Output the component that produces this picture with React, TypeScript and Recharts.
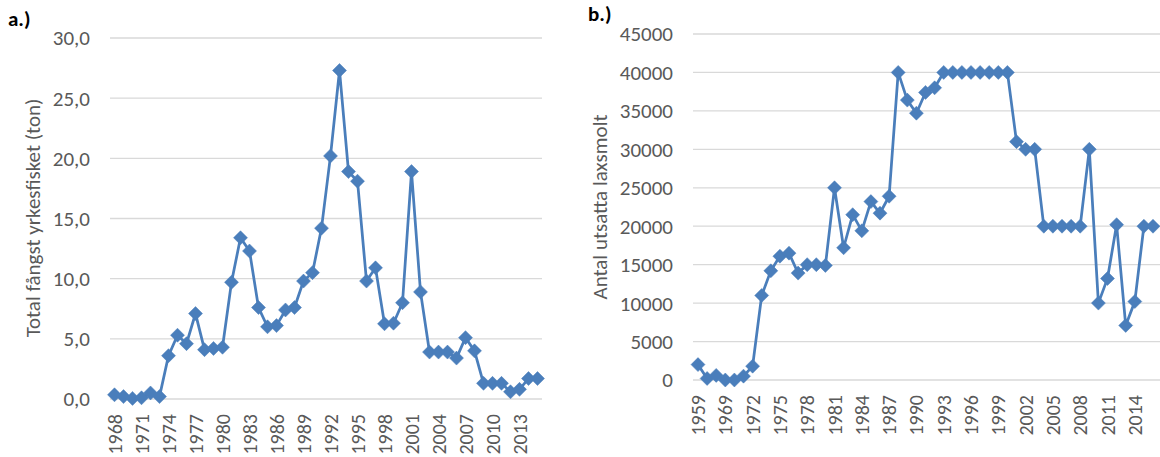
import React from 'react'
import { LineChart, Line, XAxis, YAxis, CartesianGrid, Label } from 'recharts'

const yearsA = [
  '1968', '1969', '1970', '1971', '1972', '1973', '1974', '1975', '1976', '1977',
  '1978', '1979', '1980', '1981', '1982', '1983', '1984', '1985', '1986', '1987',
  '1988', '1989', '1990', '1991', '1992', '1993', '1994', '1995', '1996', '1997',
  '1998', '1999', '2000', '2001', '2002', '2003', '2004', '2005', '2006', '2007',
  '2008', '2009', '2010', '2011', '2012', '2013', '2014', '2015',
]
const catchTon = [
  0.35, 0.2, 0.05, 0.1, 0.5, 0.2, 3.6, 5.3, 4.6, 7.1,
  4.1, 4.2, 4.3, 9.7, 13.4, 12.3, 7.6, 6.0, 6.1, 7.4,
  7.6, 9.8, 10.5, 14.2, 20.2, 27.3, 18.9, 18.1, 9.8, 10.9,
  6.25, 6.3, 8.0, 18.9, 8.9, 3.9, 3.9, 3.9, 3.4, 5.1,
  4.0, 1.3, 1.3, 1.3, 0.6, 0.8, 1.7, 1.7,
]
const ticksA = [0, 5, 10, 15, 20, 25, 30]

const yearsB = [
  '1959', '1962', '1965', '1969', '1970', '1971', '1972', '1973', '1974', '1975',
  '1976', '1977', '1978', '1979', '1980', '1981', '1982', '1983', '1984', '1985',
  '1986', '1987', '1988', '1989', '1990', '1991', '1992', '1993', '1994', '1995',
  '1996', '1997', '1998', '1999', '2000', '2001', '2002', '2003', '2004', '2005',
  '2006', '2007', '2008', '2009', '2010', '2011', '2012', '2013', '2014', '2015',
  '2016',
]
const smolt = [
  2000, 200, 600, 0, 0, 500, 1800, 11000, 14200, 16100,
  16500, 13900, 15000, 15000, 14900, 25000, 17200, 21500, 19400, 23200,
  21700, 23900, 40000, 36400, 34700, 37400, 38000, 40000, 40000, 40000,
  40000, 40000, 40000, 40000, 40000, 31000, 30000, 30000, 20000, 20000,
  20000, 20000, 20000, 30000, 10000, 13200, 20200, 7100, 10200, 20000,
  20000,
]
const ticksB = [0, 5000, 10000, 15000, 20000, 25000, 30000, 35000, 40000, 45000]

const dataA = yearsA.map((year, i) => ({ year, value: catchTon[i] }))
const dataB = yearsB.map((year, i) => ({ year, value: smolt[i] }))

const BLUE = '#4A7EBB'
const TEXT = '#595959'
const GRID = '#D9D9D9'
const FONT = 'Carlito, Lato, "Open Sans", sans-serif'

function Diamond(props: any) {
  const { cx, cy, index } = props
  if (cx == null || cy == null) return null
  const r = 7
  return (
    <path
      key={index}
      d={`M${cx},${cy - r} L${cx + r},${cy} L${cx},${cy + r} L${cx - r},${cy} Z`}
      fill={BLUE}
      stroke={BLUE}
      strokeWidth={0.5}
    />
  )
}

function YearTick(props: any) {
  const { x, y, payload } = props
  return (
    <g transform={`translate(${x},${y})`}>
      <text
        transform="rotate(-90)"
        x={-15}
        y={0}
        dy="0.35em"
        textAnchor="end"
        fill={TEXT}
        fontSize={20}
        fontFamily={FONT}
      >
        {payload.value}
      </text>
    </g>
  )
}

function AxisTitle({ x, y, text }: { x: number; y: number; text: string }) {
  return (
    <text
      x={x}
      y={y}
      transform={`rotate(-90 ${x} ${y})`}
      textAnchor="middle"
      dominantBaseline="central"
      fill={TEXT}
      fontSize={21}
      fontFamily={FONT}
    >
      {text}
    </text>
  )
}

const tickStyle = { fill: TEXT, fontSize: 21, fontFamily: FONT }

export default function App() {
  return (
    <div style={{
      position: 'absolute', left: 0, top: 0, width: 1160, height: 457,
      overflow: 'hidden', background: '#fff', fontFamily: FONT,
    }}>
      <div style={{ position: 'absolute', left: 8, top: 6, fontWeight: 700, fontSize: 21, color: '#000' }}>a.)</div>
      <div style={{ position: 'absolute', left: 588, top: 1, fontWeight: 700, fontSize: 21, color: '#000' }}>b.)</div>

      <div style={{ position: 'absolute', left: 0, top: 0 }}>
        <LineChart width={560} height={457} data={dataA} margin={{ top: 38, right: 18, bottom: 0, left: 0 }}>
          <CartesianGrid vertical={false} stroke={GRID} strokeWidth={1.3} />
          <XAxis
            dataKey="year"
            interval={2}
            axisLine={false}
            tickLine={false}
            tickSize={0}
            tickMargin={0}
            height={58}
            padding={{ left: 4.5, right: 4.5 }}
            tick={<YearTick />}
          />
          <YAxis
            domain={[0, 30]}
            ticks={ticksA}
            width={110}
            axisLine={false}
            tickLine={false}
            tickSize={0}
            tickMargin={20}
            tick={tickStyle}
            tickFormatter={(v: number) => v.toFixed(1).replace('.', ',')}
          >
            <Label content={() => <AxisTitle x={33} y={218} text="Total fångst yrkesfisket (ton)" />} />
          </YAxis>
          <Line
            dataKey="value"
            stroke={BLUE}
            strokeWidth={2.75}
            dot={<Diamond />}
            activeDot={false}
            isAnimationActive={false}
          />
        </LineChart>
      </div>

      <div style={{ position: 'absolute', left: 580, top: 0 }}>
        <LineChart width={600} height={457} data={dataB} margin={{ top: 34, right: 17, bottom: 0, left: 0 }}>
          <CartesianGrid vertical={false} stroke={GRID} strokeWidth={1.3} />
          <XAxis
            dataKey="year"
            interval={2}
            axisLine={false}
            tickLine={false}
            tickSize={0}
            tickMargin={0}
            height={77}
            padding={{ left: 5, right: 10 }}
            tick={<YearTick />}
          />
          <YAxis
            domain={[0, 45000]}
            ticks={ticksB}
            width={113}
            axisLine={false}
            tickLine={false}
            tickSize={0}
            tickMargin={20}
            tick={tickStyle}
          >
            <Label content={() => <AxisTitle x={20} y={207} text="Antal utsatta laxsmolt" />} />
          </YAxis>
          <Line
            dataKey="value"
            stroke={BLUE}
            strokeWidth={2.75}
            dot={<Diamond />}
            activeDot={false}
            isAnimationActive={false}
          />
        </LineChart>
      </div>
    </div>
  )
}
